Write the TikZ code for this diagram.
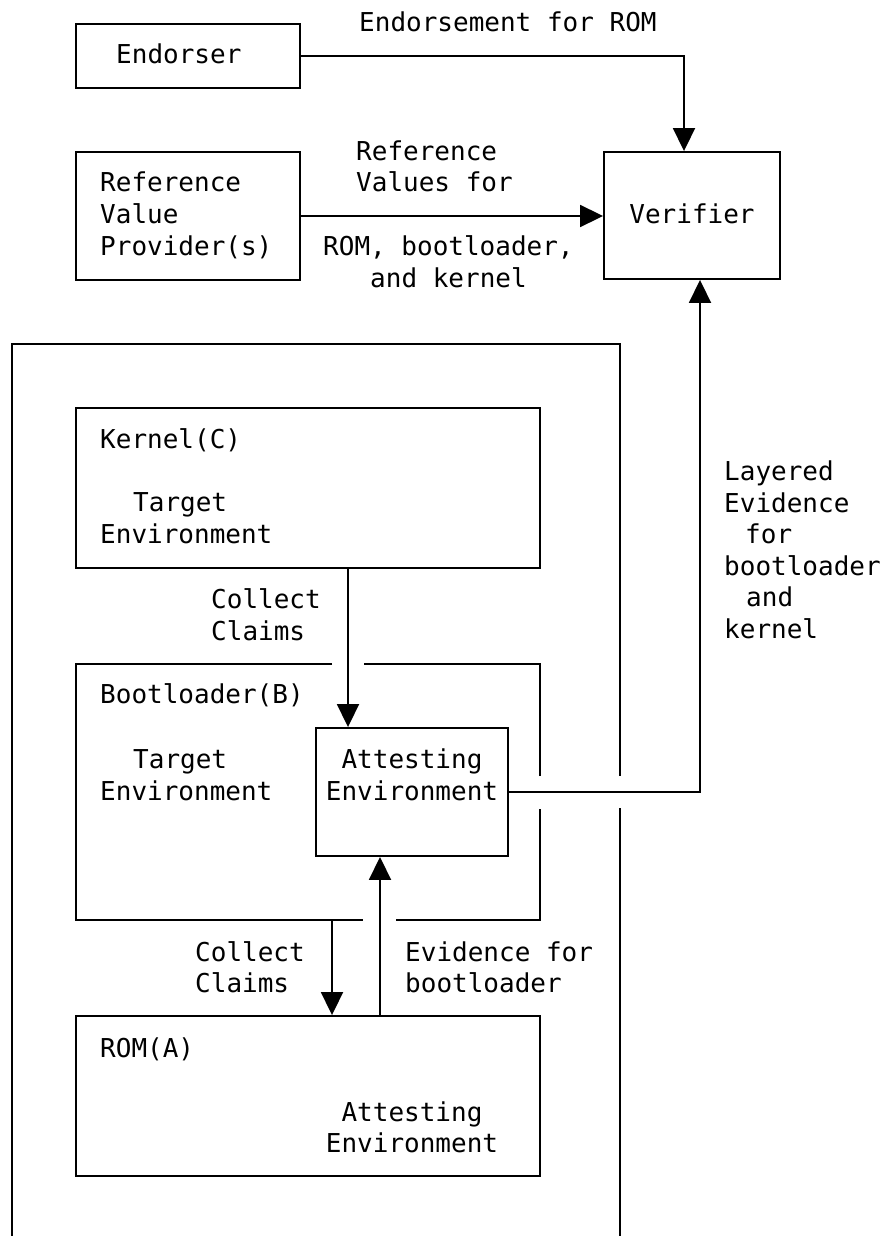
\documentclass[tikz,border=0pt]{standalone}
\usepackage{fontspec}
\newfontfamily\monof{DejaVu Sans Mono}
\usetikzlibrary{arrows.meta}
\tikzset{
  ln/.style={line width=1.9pt},
  box/.style={draw, line width=1.9pt, inner sep=0pt},
  ghost/.style={inner sep=0pt},
  txt/.style={anchor=base west, inner sep=0pt, font=\monof\fontsize{26}{32}\selectfont},
  ctxt/.style={anchor=base, inner sep=0pt, font=\monof\fontsize{26}{32}\selectfont},
  arr/.style={line width=1.9pt, -{Triangle[length=23pt,width=22pt]}}
}
\begin{document}
\begin{tikzpicture}[x=1pt,y=-1pt]
\useasboundingbox (0,0) rectangle (884,1236);
% boxes
\node[box, minimum width=224pt, minimum height=64pt] (endorser) at (188,56) {};
\node[box, minimum width=224pt, minimum height=128pt] (rvp) at (188,216) {};
\node[box, minimum width=176pt, minimum height=127pt] (verifier) at (692,215.5) {};
\node[box, minimum width=464pt, minimum height=160pt] (kernel) at (308,488) {};
\node[ghost, minimum width=464pt, minimum height=256pt] (boot) at (308,792) {};
\node[box, minimum width=192pt, minimum height=128pt] (att) at (412,792) {};
\node[box, minimum width=464pt, minimum height=160pt] (rom) at (308,1096) {};
% columns for connectors
\coordinate (colE) at (684,0);
\coordinate (colL) at (700,0);
\coordinate (colK) at (348,0);
\coordinate (colB) at (332,0);
\coordinate (colV) at (380,0);
% outer frame
\draw[ln] (12,1236) -- (12,344) -- (620,344) -- (620,776);
\draw[ln] (620,808) -- (620,1236);
% bootloader outline with gaps
\draw[ln] (332,664) -- (76,664) -- (76,920) -- (363,920);
\draw[ln] (396,920) -- (540,920) -- (540,809);
\draw[ln] (540,776) -- (540,664) -- (364,664);
% connectors
\draw[arr] (endorser.east) -| (verifier.north -| colE);
\draw[arr] (rvp.east) -- (rvp.east -| verifier.west);
\draw[arr] (att.east) -| (verifier.south -| colL);
\draw[arr] (kernel.south -| colK) -- (att.north -| colK);
\draw[arr] (boot.south -| colB) -- (rom.north -| colB);
\draw[arr] (rom.north -| colV) -- (att.south -| colV);
% texts
\node[txt] (t1) at (359,32) {Endorsement for ROM};
\node[txt] (t2) at (116,64) {Endorser};
\node[txt] (t3) at (100,191.5) {Reference};
\node[txt] (t4) at (100,223.5) {Value};
\node[txt] (t5) at (100,255.5) {Provider(s)};
\node[txt] (t6) at (356,160.5) {Reference};
\node[txt] (t7) at (356,191.5) {Values for};
\node[txt] (t8) at (323,255.5) {ROM, bootloader,};
\node[txt] (t9) at (370,287.5) {and kernel};
\node[ctxt] (t10) at (692,223) {Verifier};
\node[txt] (t11) at (100,448.5) {Kernel(C)};
\node[txt] (t12) at (133,511.5) {Target};
\node[txt] (t13) at (100,543.5) {Environment};
\node[txt] (t14) at (211,608.5) {Collect};
\node[txt] (t15) at (211,640.5) {Claims};
\node[txt] (t16) at (100,703.5) {Bootloader(B)};
\node[txt] (t17) at (133,768.5) {Target};
\node[txt] (t18) at (100,800.5) {Environment};
\node[ctxt] (t19) at (412,768.5) {Attesting};
\node[ctxt] (t20) at (412,800.5) {Environment};
\node[txt] (t21) at (724,480.5) {Layered};
\node[txt] (t22) at (724,512) {Evidence};
\node[txt] (t23) at (745,543.5) {for};
\node[txt] (t24) at (724,575) {bootloader};
\node[txt] (t25) at (746,606.5) {and};
\node[txt] (t26) at (724,638) {kernel};
\node[txt] (t27) at (195,961.5) {Collect};
\node[txt] (t28) at (195,992.5) {Claims};
\node[txt] (t29) at (405,961.5) {Evidence for};
\node[txt] (t30) at (405,992.5) {bootloader};
\node[txt] (t31) at (100,1057.5) {ROM(A)};
\node[ctxt] (t32) at (412,1121.5) {Attesting};
\node[ctxt] (t33) at (412,1152.5) {Environment};
\end{tikzpicture}
\end{document}
